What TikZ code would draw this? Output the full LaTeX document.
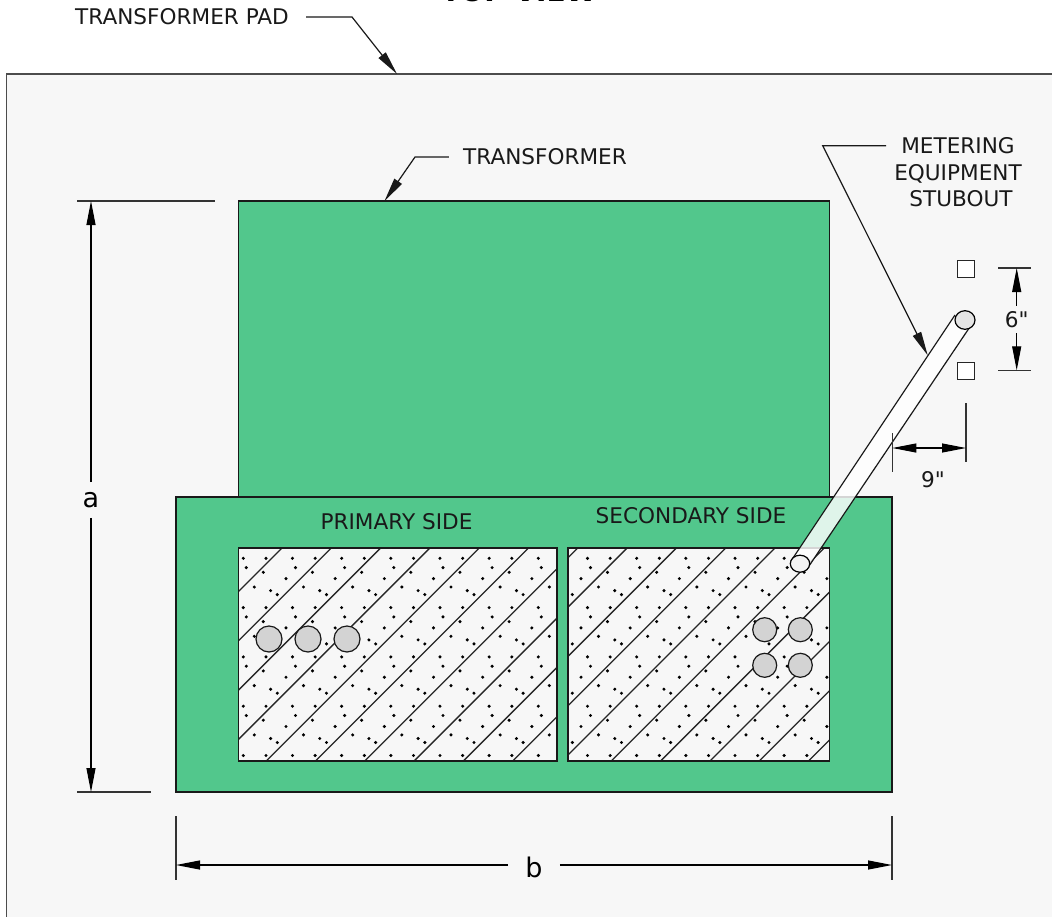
\documentclass[tikz,border=0pt]{standalone}
\usepackage{xcolor}
\usepackage{fontspec}
\setmainfont{DejaVu Sans}[Ligatures=TeXOff]
\usetikzlibrary{arrows.meta}
\definecolor{padgrey}{RGB}{247,247,247}
\definecolor{unitgreen}{RGB}{82,199,140}
\definecolor{cablegrey}{RGB}{211,211,211}
\tikzstyle{callout}=[inner sep=0pt,font=\fontsize{21.6}{26.5}\selectfont,text=black!90]
\tikzstyle{dimletter}=[inner sep=0pt,font=\fontsize{27}{30}\selectfont]
\tikzstyle{unit}=[draw=black!90,line width=1.5pt,fill=unitgreen]
\tikzstyle{vault}=[draw=black!90,line width=1.4pt]
\tikzstyle{cable}=[circle,draw=black!90,line width=1.2pt,fill=cablegrey,inner sep=0pt]
\tikzstyle{post}=[draw=black!85,line width=1pt,fill=white,inner sep=0pt,minimum size=17pt]
\tikzset{leader/.style={-{Triangle[length=24pt,width=9pt]},line width=1.2pt,black!90}}
\tikzset{dimline/.style={-{Triangle[length=24pt,width=9pt]},line width=1.1pt,black}}
\tikzset{tick/.style={line width=1.1pt,black!80}}
\newcommand{\vaultdots}{%
  \foreach \col in {0,...,11}{
    \foreach \row in {0,...,4}{
      \foreach \dx/\dy in {0/0,22.7/0,3/9.3,20/14,42.7/20.3,11/28.7,27.3/32.3,34/36.3}{
        \fill[black] (243.3+49.17*\col+\dx,558.3+49.3*\row+\dy) circle (1.7);
      }
    }
  }
  \foreach \k in {0,...,16}{
    \draw[line width=1.3pt,black!85] (30+49.3*\k,800) -- +(800,-800);
  }
}
\begin{document}
\begin{tikzpicture}[x=1pt,y=-1pt]
  \useasboundingbox (0,0) rectangle (1052,916);
  \fill[white] (0,0) rectangle (1052,916);
  \draw[fill=padgrey,draw=black!70,line width=1.7pt] (6.5,74) rectangle (1070,940);
  \draw (519,1.5) node[anchor=base,inner sep=0pt,font=\bfseries\fontsize{28}{30}\selectfont] (viewtitle) {TOP VIEW};

  %% Transformer and its base
  \draw[unit] (238.5,201) rectangle (829.5,497);
  \draw[unit] (176,497) rectangle (892,792);

  %% Vaults
  \begin{scope}
    \clip (238.5,548) rectangle (557,761) (568,548) rectangle (829.5,761);
    \fill[padgrey] (176,497) rectangle (892,792);
    \vaultdots
  \end{scope}
  \draw[vault] (238.5,548) rectangle (557,761);
  \draw[vault] (568,548) rectangle (829.5,761);

  \draw (269,639) node[cable,minimum size=26pt] (P1) {};
  \draw (308,639) node[cable,minimum size=26pt] (P2) {};
  \draw (347,639) node[cable,minimum size=26pt] (P3) {};
  \draw (764.7,629.7) node[cable,minimum size=24pt] (S1) {};
  \draw (800.3,629.7) node[cable,minimum size=24pt] (S2) {};
  \draw (764.7,665.3) node[cable,minimum size=24pt] (S3) {};
  \draw (800.3,665.3) node[cable,minimum size=24pt] (S4) {};

  \draw (396.5,522) node[callout] (primary) {PRIMARY SIDE};
  \draw (691,516) node[callout] (secondary) {SECONDARY SIDE};

  %% Stubout
  \fill[white,opacity=.82] (955,315) -- (791,561) -- (809,566) -- (970.5,326) -- cycle;
  \draw[line width=1.2pt,black!90] (955,315) -- (791,561);
  \draw[line width=1.2pt,black!90] (970.5,326) -- (809,566);
  \draw[fill=black!5,line width=1.2pt] (800,563.7) ellipse (9.7 and 8.5);
  \draw[fill=black!10,line width=1.2pt] (965,320) ellipse (10 and 9.3);
  \draw (966,268.5) node[post] (postA) {};
  \draw (966,370.8) node[post] (postB) {};

  %% Callouts
  \draw (182,17) node[callout] (padtext) {TRANSFORMER PAD};
  \draw (545,157) node[callout] (unittext) {TRANSFORMER};
  \draw (958,172.5) node[callout,align=center] (stubtext) {METERING\\EQUIPMENT\\\hspace*{6pt}STUBOUT};
  \coordinate (padelbow) at (352,17);
  \coordinate (padtip) at (397,74);
  \coordinate (unitelbow) at (415,157);
  \coordinate (unittip) at (384.5,201);
  \coordinate (stubelbow) at (822.7,145.7);
  \coordinate (stubtip) at (927.7,355.3);
  \draw[leader] (padtext.east) ++(17,0) -- (padelbow) -- (padtip);
  \draw[leader] (unittext.west) ++(-14,0) -- (unitelbow) -- (unittip);
  \draw[leader] (886,145.7) -- (stubelbow) -- (stubtip);

  %% Dimensions
  \draw[tick] (77,201) -- (215,201);
  \draw[tick] (77,792) -- (151,792);
  \draw (91,500) node[dimletter] (dima) {a};
  \draw[dimline] (dima.north) ++(0,-10) -- (91,201);
  \draw[dimline] (dima.south) ++(0,10) -- (91,792);

  \draw[tick] (176,816) -- (176,880);
  \draw[tick] (892,816) -- (892,880);
  \draw (534,867) node[dimletter] (dimb) {b};
  \draw[dimline] (dimb.west) ++(-17,-2) -- (176,865);
  \draw[dimline] (dimb.east) ++(17,-2) -- (892,865);

  \draw[tick] (998,268) -- (1031,268);
  \draw[tick] (998,370.3) -- (1031,370.3);
  \draw (1016.7,320) node[callout] (dimsix) {6"};
  \draw[dimline] (dimsix.north) ++(0,-6) -- (1016.7,268);
  \draw[dimline] (dimsix.south) ++(0,5) -- (1016.7,370.3);

  \draw[tick] (892.3,433) -- (892.3,472);
  \draw[tick] (966,403) -- (966,462);
  \draw (933,480) node[callout] (dimnine) {9"};
  \coordinate (ninemid) at (929,448);
  \draw[dimline] (ninemid) -- (892.3,448);
  \draw[dimline] (ninemid) -- (966,448);
\end{tikzpicture}
\end{document}
